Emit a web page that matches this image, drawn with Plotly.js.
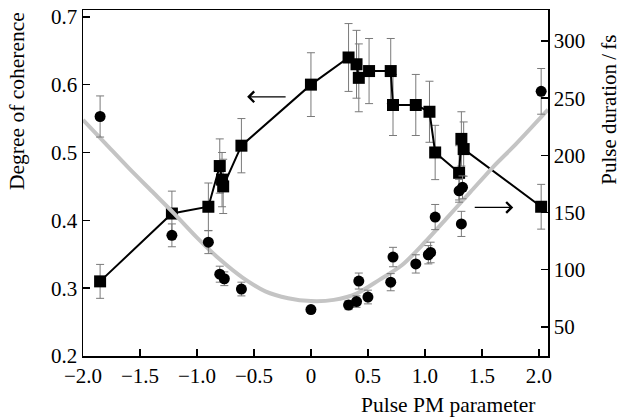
<!DOCTYPE html>
<html>
<head>
<meta charset="utf-8">
<script src="https://cdn.plot.ly/plotly-3.0.1.min.js"></script>
<style>html,body{margin:0;padding:0;background:#fff;}#chart{width:621px;height:420px;}</style>
</head>
<body>
<div id="chart"></div>
<script>
// Degree of coherence (left axis), squares
const cohX   = [-1.85, -1.22, -0.90, -0.80, -0.78, -0.77, -0.61, 0.00, 0.33, 0.40, 0.42, 0.51, 0.70, 0.72, 0.92, 1.04, 1.09, 1.30, 1.32, 1.34, 2.02];
const cohY   = [0.31, 0.41, 0.42, 0.48, 0.46, 0.45, 0.51, 0.60, 0.64, 0.63, 0.61, 0.62, 0.62, 0.57, 0.57, 0.56, 0.50, 0.47, 0.52, 0.505, 0.42];
const cohErr = [0.025, 0.033, 0.035, 0.04, 0.04, 0.04, 0.04, 0.047, 0.05, 0.05, 0.05, 0.048, 0.048, 0.045, 0.045, 0.045, 0.04, 0.04, 0.04, 0.04, 0.033];

// Pulse duration (right axis), circles
const durX   = [-1.85, -1.22, -0.90, -0.80, -0.76, -0.61, 0.00, 0.33, 0.40, 0.42, 0.50, 0.70, 0.72, 0.92, 1.03, 1.05, 1.09, 1.30, 1.32, 1.33, 2.02];
const durY   = [234, 130, 124, 96, 92, 83, 65, 69, 72, 90, 76, 89, 111, 105, 113, 115, 146, 169, 140, 172, 256];
const durErr = [18, 10, 10, 7, 6, 6, 3, 4, 5, 7, 6, 7.5, 8.5, 8, 8, 9, 11, 10, 11, 10, 20];

// Fitted curve for pulse duration (grey)
const fitX = [-2.0, -1.8, -1.6, -1.4, -1.2, -1.0, -0.8, -0.6, -0.4, -0.2, 0.0, 0.2, 0.4, 0.6, 0.8, 1.0, 1.2, 1.4, 1.6, 1.8, 2.08];
const fitY = [231, 210, 189, 169, 149, 128, 109, 93, 81, 75, 72.5, 73.5, 79, 91, 104, 124, 146, 168, 190, 210, 240];

// Tick labels
const xTickVals = [-2, -1.5, -1, -0.5, 0, 0.5, 1, 1.5, 2];
const xTickText = ['\u22122.0', '\u22121.5', '\u22121.0', '\u22120.5', '0', '0.5', '1.0', '1.5', '2.0'];
const yTickVals = [0.2, 0.3, 0.4, 0.5, 0.6, 0.7];
const yTickText = ['0.2', '0.3', '0.4', '0.5', '0.6', '0.7'];
const y2TickVals = [50, 100, 150, 200, 250, 300];
const y2TickText = ['50', '100', '150', '200', '250', '300'];

const FONT = 'Liberation Serif, Times New Roman, serif';

const traces = [
  {
    x: fitX, y: fitY, yaxis: 'y2', type: 'scatter', mode: 'lines',
    line: {color: '#c4c4c4', width: 4, shape: 'spline', smoothing: 0.8},
    hoverinfo: 'skip', showlegend: false
  },
  {
    x: cohX, y: cohY, yaxis: 'y', type: 'scatter', mode: 'lines+markers',
    line: {color: '#000', width: 2},
    marker: {symbol: 'square', size: 12, color: '#000'},
    error_y: {type: 'data', array: cohErr, visible: true, color: '#7a7a7a', thickness: 1, width: 4},
    showlegend: false
  },
  {
    x: durX, y: durY, yaxis: 'y2', type: 'scatter', mode: 'markers',
    marker: {symbol: 'circle', size: 11, color: '#000'},
    error_y: {type: 'data', array: durErr, visible: true, color: '#7a7a7a', thickness: 1, width: 4},
    showlegend: false
  }
];

const axisCommon = {
  showline: true, linecolor: '#000', linewidth: 1.5,
  ticks: 'inside', ticklen: 7, tickwidth: 1.5, tickcolor: '#000',
  showgrid: false, zeroline: false,
  tickfont: {family: FONT, size: 21, color: '#000'}
};

const layout = {
  width: 621, height: 420,
  margin: {l: 83, r: 73, t: 10, b: 64},
  paper_bgcolor: '#fff', plot_bgcolor: '#fff',
  font: {family: FONT, color: '#000'},
  xaxis: Object.assign({}, axisCommon, {
    range: [-2.0, 2.08], tickmode: 'array', tickvals: xTickVals, ticktext: xTickText,
    mirror: true
  }),
  yaxis: Object.assign({}, axisCommon, {
    range: [0.2, 0.710], tickmode: 'array', tickvals: yTickVals, ticktext: yTickText
  }),
  yaxis2: Object.assign({}, axisCommon, {
    overlaying: 'y', side: 'right', anchor: 'x',
    range: [24.4, 327.2], tickmode: 'array', tickvals: y2TickVals, ticktext: y2TickText
  }),
  annotations: [
    {
      text: 'Pulse PM parameter', xref: 'paper', yref: 'paper',
      x: 0.785, y: -0.142, xanchor: 'center', yanchor: 'middle', showarrow: false,
      font: {family: FONT, size: 21.5, color: '#000'}
    },
    {
      text: 'Degree of coherence', xref: 'paper', yref: 'paper', textangle: -90,
      x: -0.142, y: 0.737, xanchor: 'center', yanchor: 'middle', showarrow: false,
      font: {family: FONT, size: 21.5, color: '#000'}
    },
    {
      text: 'Pulse duration\u2009/\u2009fs', xref: 'paper', yref: 'paper', textangle: -90,
      x: 1.1305, y: 0.711, xanchor: 'center', yanchor: 'middle', showarrow: false,
      font: {family: FONT, size: 21, color: '#000'}
    },
    {
      x: -0.56, y: 0.582, xref: 'x', yref: 'y', ax: 40, ay: 0, text: '',
      showarrow: true, arrowhead: 4, arrowsize: 1.6, arrowwidth: 1.3, arrowcolor: '#000'
    },
    {
      x: 1.775, y: 0.419, xref: 'x', yref: 'y', ax: -40, ay: 0, text: '',
      showarrow: true, arrowhead: 4, arrowsize: 1.6, arrowwidth: 1.3, arrowcolor: '#000'
    }
  ]
};

Plotly.newPlot('chart', traces, layout, {displayModeBar: false, staticPlot: true});
</script>
</body>
</html>
